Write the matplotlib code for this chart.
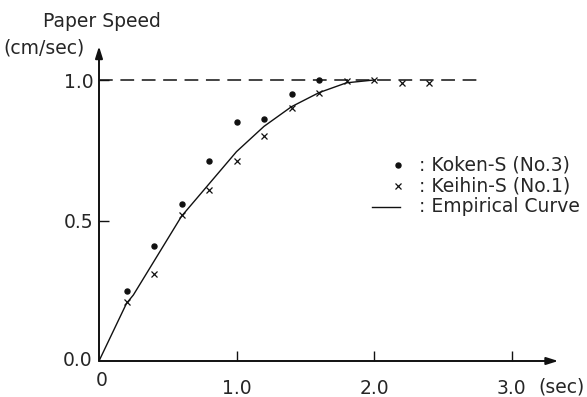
import matplotlib
matplotlib.use("Agg")
import matplotlib.pyplot as plt
import matplotlib.transforms as mtransforms

# ----------------------------------
# Measured paper speed (cm/sec) vs time (sec)
# ----------------------------------
koken_t = [0.2, 0.4, 0.6, 0.8, 1.0, 1.2, 1.4, 1.6]
koken_v = [0.25, 0.41, 0.56, 0.71, 0.85, 0.86, 0.95, 1.0]

keihin_t = [0.2, 0.4, 0.6, 0.8, 1.0, 1.2, 1.4, 1.6, 1.8, 2.0, 2.2, 2.4]
keihin_v = [0.21, 0.31, 0.52, 0.61, 0.71, 0.80, 0.90, 0.955, 0.995, 1.0, 0.99, 0.99]

curve_t = [0.0, 0.2, 0.25, 0.4, 0.6, 0.8, 1.0, 1.2, 1.4, 1.6, 1.8, 2.0]
curve_v = [0.0, 0.205, 0.235, 0.355, 0.515, 0.63, 0.745, 0.835, 0.905, 0.955, 0.99, 1.0]

steady_v = 1.0
steady_end = 2.77

x_ticks = [1.0, 2.0, 3.0]
x_tick_labels = ["1.0", "2.0", "3.0"]
y_ticks = [0.5, 1.0]
y_tick_labels = ["0.5", "1.0"]

INK = "#262626"
FS = 13.5
plt.rcParams["font.family"] = "DejaVu Sans"

W, H = 587, 397
fig = plt.figure(figsize=(W / 100, H / 100), dpi=100)

# pixel coords measured from the top-left corner of the figure
px = mtransforms.Affine2D().scale(1 / W, -1 / H).translate(0, 1) + fig.transFigure

x0, y0 = 99, 361          # origin
ux, uy = 137.5, 281       # pixels per unit
xmax, ymax = 3.4, 1.15
ax = fig.add_axes([x0 / W, (H - y0) / H, xmax * ux / W, ymax * uy / H])
ax.set_xlim(0, xmax)
ax.set_ylim(0, ymax)
ax.patch.set_visible(False)
for s in ax.spines.values():
    s.set_visible(False)

# axes with arrow heads
arrow = dict(arrowstyle="-|>,head_length=0.7,head_width=0.22", color="#111111",
             lw=1.4, shrinkA=0, shrinkB=0)
ax.annotate("", xy=(3.34, 0), xytext=(0, 0), arrowprops=arrow, annotation_clip=False)
ax.annotate("", xy=(0, 1.12), xytext=(0, 0), arrowprops=arrow, annotation_clip=False)

# ticks
ax.set_xticks(x_ticks)
ax.set_xticklabels(x_tick_labels)
ax.set_yticks(y_ticks)
ax.set_yticklabels(y_tick_labels)
ax.tick_params(direction="in", length=7.5, width=1, color="#111111",
               labelcolor=INK, labelsize=FS)
ax.tick_params(axis="x", pad=13)
ax.tick_params(axis="y", pad=4)
ax.text(-0.045, 0.0, "0.0", ha="right", va="center", fontsize=FS, color=INK)
ax.text(0.02, -0.035, "0", ha="center", va="top", fontsize=FS, color=INK)

# steady state level
ax.plot([0, steady_end], [steady_v, steady_v], color="#111111", lw=1.1,
        dashes=(9, 5), clip_on=False)

# data
ax.plot(curve_t, curve_v, color="#111111", lw=1.0)
ax.plot(koken_t, koken_v, "o", color="#111111", ms=3.6, clip_on=False)
ax.plot(keihin_t, keihin_v, "x", color="#111111", ms=5, mew=0.9, clip_on=False)

# axis titles
fig.text(43, 27, "Paper Speed", transform=px, ha="left", va="baseline",
         fontsize=FS, color=INK)
fig.text(3, 53, "(cm/sec)", transform=px, ha="left", va="baseline",
         fontsize=FS, color=INK)
fig.text(538, 387, "(sec)", transform=px, ha="left", va="center",
         fontsize=FS, color=INK)

# legend drawn by hand
fig.lines.append(plt.Line2D([398], [165], transform=px, marker="o", ms=3.6,
                            color="#111111", ls="none"))
fig.lines.append(plt.Line2D([398], [186], transform=px, marker="x", ms=5,
                            mew=0.9, color="#111111", ls="none"))
fig.lines.append(plt.Line2D([372, 400], [207, 207], transform=px,
                            color="#111111", lw=1.0))
legend_rows = [(165, ": Koken-S (No.3)"), (186, ": Keihin-S (No.1)"),
               (207, ": Empirical Curve")]
for yy, label in legend_rows:
    fig.text(419, yy, label, transform=px, ha="left", va="center",
             fontsize=FS, color=INK)

fig.savefig("out.png", dpi=100)
